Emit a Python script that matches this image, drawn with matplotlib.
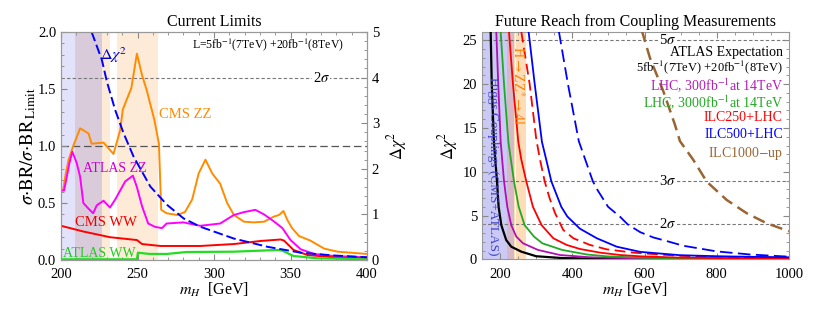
import matplotlib
matplotlib.use("Agg")
import matplotlib.pyplot as plt
from matplotlib.ticker import MultipleLocator

plt.rcParams['font.family'] = ['Liberation Serif', 'DejaVu Serif']
plt.rcParams['mathtext.fontset'] = 'stix'

# ---------------- Left panel data (Current Limits) ----------------
mh_cms_zz = [200, 201.5, 203, 205, 208, 212.5, 218, 220, 227.8, 234.3, 238.7, 240.4, 246, 249.6,
             253, 256, 261, 264, 265.5, 269, 275.8, 281, 285.7, 290, 294.4, 298.8, 304, 308.6,
             313, 319.6, 326, 332.7, 339, 342.5, 345.4, 348, 351, 355.6, 363, 372, 380.8, 400]
cms_zz = [0.60, 0.62, 0.75, 0.88, 1.0, 1.155, 1.11, 1.02, 1.03, 0.93, 1.14, 1.32, 1.51, 1.81,
          1.62, 1.49, 1.23, 1.02, 0.44, 0.41, 0.395, 0.42, 0.53, 0.76, 0.88, 0.76, 0.67, 0.50,
          0.395, 0.336, 0.33, 0.336, 0.38, 0.395, 0.43, 0.35, 0.28, 0.21, 0.17, 0.10, 0.073, 0.053]

mh_atlas_zz = [200, 202, 203.8, 205.5, 207.4, 210.3, 212.5, 214.6, 218, 221, 223.4, 227.8, 232,
               235.4, 242, 247, 249.6, 253, 257, 261.6, 266, 269, 280, 291, 304, 313, 319.6, 327,
               332.7, 339, 344.7, 350, 356.7, 365.5, 378.6, 400]
atlas_zz = [0.61, 0.61, 0.73, 0.85, 0.95, 0.85, 0.73, 0.50, 0.45, 0.41, 0.48, 0.52, 0.46,
            0.53, 0.69, 0.74, 0.64, 0.47, 0.32, 0.29, 0.28, 0.32, 0.33, 0.30, 0.32, 0.395, 0.42, 0.44,
            0.40, 0.34, 0.28, 0.175, 0.094, 0.053, 0.035, 0.023]

mh_cms_ww = [200, 214.6, 232, 249.6, 253, 265, 291, 313, 330.5, 343.6, 345.8, 352, 361, 378.6, 400]
cms_ww = [0.30, 0.25, 0.20, 0.175, 0.14, 0.123, 0.123, 0.14, 0.167, 0.18, 0.17, 0.088, 0.044, 0.023, 0.015]

mh_atlas_ww = [200, 249.6, 250.3, 258, 269, 282, 313, 341.4, 344.7, 352, 367.6, 400]
atlas_ww = [0.006, 0.006, 0.064, 0.053, 0.053, 0.07, 0.073, 0.088, 0.082, 0.035, 0.015, 0.006]

mh_chi2 = [220, 226.7, 230, 235.4, 240.9, 247.4, 258.4, 269.3, 280.2, 291, 313, 334.9, 356.7, 378, 400]
chi2_now = [5.0, 4.39, 3.91, 3.29, 2.78, 2.27, 1.61, 1.21, 0.91, 0.73, 0.47, 0.29, 0.16, 0.10, 0.06]

# bands (GeV) for left panel: (start, end, colour)
left_bands_lo = [200, 209, 227, 236.5]
left_bands_hi = [209, 227, 232, 263.5]
left_bands_col = ['#e2e2fb', '#dacbda', '#fdebd7', '#fdebd7']

# ---------------- Right panel data (Future Reach) ----------------
mh_black = [174, 177, 183, 191.5, 196, 203.5, 217, 231, 259, 300, 369, 450, 600, 1000]
chi_black = [26, 20, 13.4, 8.9, 6.0, 3.9, 2.2, 1.44, 0.87, 0.35, 0.15, 0.08, 0.04, 0.02]

mh_lhc300 = [189.6, 195, 201.7, 211, 220, 231, 245, 263.5, 305, 366, 449, 588, 800, 1000]
chi_lhc300 = [26, 20, 13.4, 8.9, 6.0, 3.9, 2.59, 1.83, 1.07, 0.49, 0.23, 0.11, 0.05, 0.03]

mh_lhc3000 = [201.7, 211, 223, 238.6, 251.6, 268, 294, 317, 372, 440, 495, 588, 700, 1000]
chi_lhc3000 = [26, 20, 13.4, 8.9, 6.0, 3.9, 2.59, 1.83, 1.07, 0.55, 0.34, 0.19, 0.11, 0.05]

mh_ilc250 = [224.7, 235.8, 250.5, 259, 272.7, 291, 315, 347.5, 384.5, 421, 477, 532.6, 588, 698, 850, 1000]
chi_ilc250 = [26, 20, 13.4, 11.36, 8.9, 6.0, 3.9, 2.4, 1.64, 1.18, 0.76, 0.49, 0.34, 0.19, 0.12, 0.08]

mh_ilc250d = [258.8, 282, 300, 310, 323.6, 337, 352, 375, 403, 449, 495, 569, 634, 698, 800, 1000]
chi_ilc250d = [26, 20, 13.8, 11.5, 8.9, 7.0, 5.3, 3.35, 2.4, 1.64, 1.14, 0.76, 0.57, 0.40, 0.28, 0.15]

mh_ilc500 = [279, 296, 316, 328, 342, 369.5, 386, 421, 468, 523, 588, 698, 800, 900, 1000]
chi_ilc500 = [26, 20, 13.4, 11.36, 8.9, 6.0, 4.9, 3.5, 2.4, 1.44, 0.85, 0.47, 0.35, 0.28, 0.23]

mh_ilc500d = [363, 388, 418, 457, 470, 499, 532, 553, 588, 624, 660, 707, 800, 892, 1000]
chi_ilc500d = [26, 20, 13.5, 8.9, 7.9, 6.0, 4.87, 4.0, 3.1, 2.5, 2.1, 1.55, 0.9, 0.55, 0.3]

mh_ilc1000 = [592, 615, 652, 684, 698, 735, 772, 827.5, 883, 938, 1000]
chi_ilc1000 = [26.2, 23.0, 19.2, 15.4, 13.5, 11.36, 8.88, 6.78, 5.26, 4.12, 3.2]

right_bands_lo = [150, 220, 238, 245]
right_bands_hi = [220, 238, 240, 271]
right_bands_col = ['#cacaf5', '#d6b8c9', '#fddcb8', '#fddcb8']

sigma_levels = [25, 9, 4]
sigma_labels = ['5$\\sigma$', '3$\\sigma$', '2$\\sigma$']

legend_texts = ['ATLAS Expectation', '5fb$^{-1}$(7TeV) +20fb$^{-1}$(8TeV)',
                'LHC, 300fb$^{-1}$at 14TeV', 'LHC, 3000fb$^{-1}$at 14TeV',
                'ILC250+LHC', 'ILC500+LHC', 'ILC1000$-$up']
legend_cols = ['black', 'black', '#b020b8', '#22a822', '#ff0000', '#0000ff', '#996633']
legend_sizes = [10, 9, 10, 10, 10, 10, 10]
legend_y = [23.6, 21.9, 19.8, 17.9, 16.25, 14.2, 12.1]

# ---------------- Figure ----------------
fig = plt.figure(figsize=(8.3, 3.13), dpi=100)
spine_col = '#999999'


def style(ax, right=True):
    for s in ax.spines.values():
        s.set_color(spine_col)
        s.set_linewidth(0.8)
    ax.tick_params(which='both', direction='in', color='#888888', labelsize=10.5, top=True, right=right)
    ax.tick_params(which='major', length=4)
    ax.tick_params(which='minor', length=2)
    ax.tick_params(axis='x', pad=6)


# ---- Left panel ----
ax1 = fig.add_axes([61 / 830, 53 / 313, 306 / 830, 228 / 313])
for lo, hi, c in zip(left_bands_lo, left_bands_hi, left_bands_col):
    ax1.axvspan(lo, hi, color=c, lw=0, zorder=0)
ax1.axhline(1.0, color='#555555', lw=0.9, dashes=(6, 3), zorder=1)
ax1.axhline(1.6, color='#777777', lw=0.8, dashes=(3, 2), zorder=1)
ax1.text(370, 1.6, '2$\\sigma$', fontsize=10.5, ha='center', va='center',
         bbox=dict(facecolor='white', edgecolor='none', pad=0.3), zorder=2)

ax1.plot(mh_cms_zz, cms_zz, color='#ff8c00', lw=1.4, zorder=3)
ax1.plot(mh_atlas_zz, atlas_zz, color='#ff00ff', lw=1.4, zorder=3)
ax1.plot(mh_cms_ww, cms_ww, color='#ff0000', lw=1.4, zorder=3)
ax1.plot(mh_atlas_ww, atlas_ww, color='#22dd22', lw=1.6, zorder=3)

ax1.set_xlim(200, 400)
ax1.set_ylim(0, 2.0)
ax1.xaxis.set_major_locator(MultipleLocator(50))
ax1.xaxis.set_minor_locator(MultipleLocator(10))
ax1.yaxis.set_major_locator(MultipleLocator(0.5))
ax1.yaxis.set_minor_locator(MultipleLocator(0.1))
ax1.yaxis.set_major_formatter(matplotlib.ticker.FormatStrFormatter('%.1f'))
style(ax1, right=False)
ax1.set_title('Current Limits', fontsize=11.5, pad=4)
ax1.set_xlabel('$m_H$  [GeV]', fontsize=11.5, labelpad=0)
ax1.set_ylabel('$\\sigma{\\cdot}\\mathrm{BR}/\\sigma{\\cdot}\\mathrm{BR}_{\\,\\mathrm{Limit}}$', fontsize=13.5, labelpad=0)

ax1.text(264.3, 1.28, 'CMS ZZ', color='#ff8c00', fontsize=10.5, va='center')
ax1.text(214.4, 0.807, 'ATLAS ZZ', color='#cc00cc', fontsize=10, va='center')
ax1.text(209.2, 0.325, 'CMS WW', color='#ee0000', fontsize=10.5, va='center')
ax1.text(201.3, 0.053, 'ATLAS WW', color='#22cc22', fontsize=10, va='center')
ax1.text(385, 1.886, 'L=5fb$^{-1}$(7TeV) +20fb$^{-1}$(8TeV)', fontsize=8.5, ha='right', va='center')
ax1.text(225.6, 1.80, '$\\Delta\\chi^2$', color='#0000cc', fontsize=11.5, va='center')

ax1r = ax1.twinx()
ax1r.plot(mh_chi2, chi2_now, color='#0000ff', lw=1.4, dashes=(5, 2))
ax1r.set_ylim(0, 5)
ax1r.yaxis.set_major_locator(MultipleLocator(1))
ax1r.yaxis.set_minor_locator(MultipleLocator(0.2))
for s in ax1r.spines.values():
    s.set_color(spine_col)
    s.set_linewidth(0.8)
ax1r.tick_params(which='both', direction='in', color='#888888', labelsize=10.5)
ax1r.tick_params(which='major', length=4)
ax1r.tick_params(which='minor', length=2)
ax1r.set_ylabel('$\\Delta\\chi^2$', fontsize=12, labelpad=4)

# ---- Right panel ----
ax2 = fig.add_axes([482 / 830, 53.7 / 313, 307 / 830, 227.6 / 313])
for lo, hi, c in zip(right_bands_lo, right_bands_hi, right_bands_col):
    ax2.axvspan(lo, hi, color=c, lw=0, zorder=0)
for lev, lab in zip(sigma_levels, sigma_labels):
    ax2.axhline(lev, color='#777777', lw=0.8, dashes=(3, 2), zorder=1)
    ax2.text(665, lev, lab, fontsize=10.5, ha='center', va='center',
             bbox=dict(facecolor='white', edgecolor='none', pad=0.3), zorder=2)

ax2.plot(mh_black, chi_black, color='black', lw=1.6, zorder=3)
ax2.plot(mh_lhc300, chi_lhc300, color='#b010b0', lw=1.3, zorder=3)
ax2.plot(mh_lhc3000, chi_lhc3000, color='#22a822', lw=1.3, zorder=3)
ax2.plot(mh_ilc250, chi_ilc250, color='#ff0000', lw=1.3, zorder=3)
ax2.plot(mh_ilc250d, chi_ilc250d, color='#ff0000', lw=1.3, dashes=(6, 3), zorder=3)
ax2.plot(mh_ilc500, chi_ilc500, color='#0000ff', lw=1.3, zorder=3)
ax2.plot(mh_ilc500d, chi_ilc500d, color='#0000ff', lw=1.3, dashes=(7, 3), zorder=3)
ax2.plot(mh_ilc1000, chi_ilc1000, color='#996633', lw=1.8, dashes=(5, 2.5), zorder=3)

ax2.set_xlim(150, 1000)
ax2.set_ylim(0, 26)
ax2.xaxis.set_major_locator(MultipleLocator(200))
ax2.xaxis.set_minor_locator(MultipleLocator(50))
ax2.yaxis.set_major_locator(MultipleLocator(5))
ax2.yaxis.set_minor_locator(MultipleLocator(1))
style(ax2)
ax2.set_title('Future Reach from Coupling Measurements', fontsize=11.5, pad=4)
ax2.set_xlabel('$m_H$ [GeV]', fontsize=11.5, labelpad=0)
ax2.set_ylabel('$\\Delta\\chi^2$', fontsize=12, labelpad=2)

for t, c, fs, y in zip(legend_texts, legend_cols, legend_sizes, legend_y):
    ax2.text(983, y, t, color=c, fontsize=fs, ha='right', va='center', zorder=4)

ax2.text(180, 10.6, 'Higgs Couplings (CMS+ATLAS)', color='#4040cc', fontsize=9.5,
         rotation=270, ha='center', va='center', zorder=4)
ax2.text(250, 19.9, 'H$\\rightarrow$ZZ$^{*}$$\\rightarrow$4l', color='#ff8000', fontsize=10,
         rotation=270, ha='center', va='center', zorder=4)

fig.savefig('out.png', dpi=100)
